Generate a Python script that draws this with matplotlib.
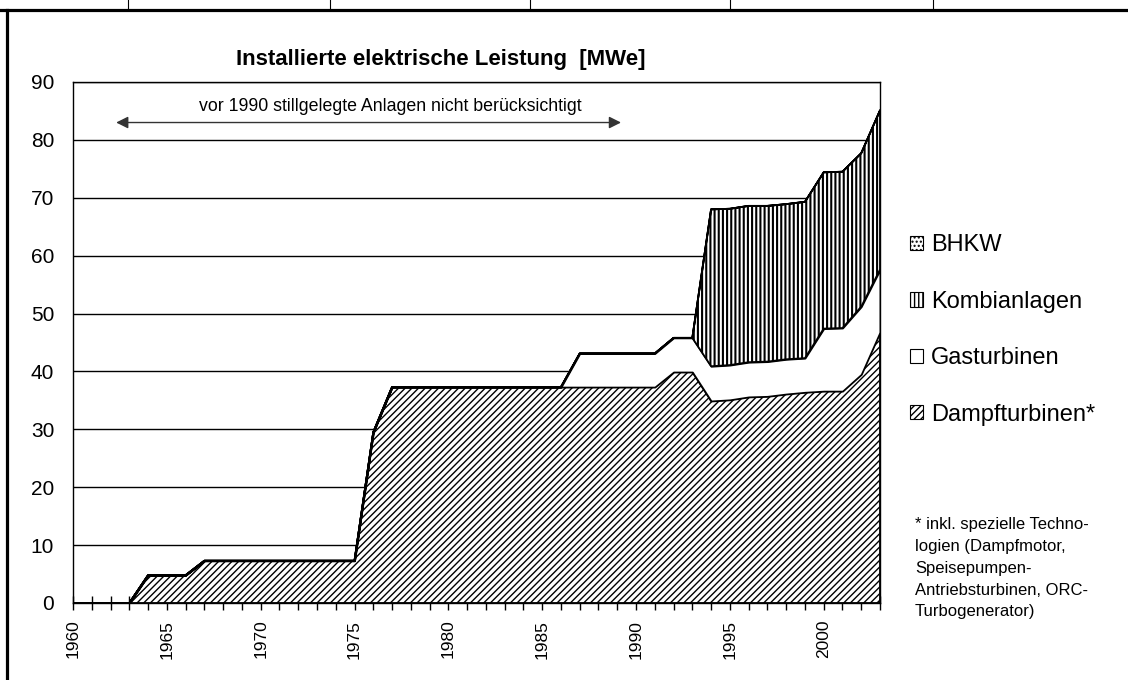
import numpy as np
import matplotlib.pyplot as plt
from matplotlib.patches import Patch
from matplotlib.lines import Line2D

plt.rcParams['font.family'] = ['Liberation Sans', 'DejaVu Sans']
plt.rcParams['hatch.linewidth'] = 1.0

# Installed capacity per year in MWe (stacked)
years = np.arange(1960, 2004)
dampf = [0, 0, 0, 0, 4.8, 4.8, 4.8, 7.3, 7.3, 7.3, 7.3, 7.3, 7.3, 7.3, 7.3, 7.3,
         29.5, 37.3, 37.3, 37.3, 37.3, 37.3, 37.3, 37.3, 37.3, 37.3, 37.3, 37.3,
         37.3, 37.3, 37.3, 37.3, 39.9, 39.9, 34.9, 35.1, 35.6, 35.7, 36.1, 36.4,
         36.6, 36.6, 39.5, 46.8]
gas = [0, 0, 0, 0, 0, 0, 0, 0, 0, 0, 0, 0, 0, 0, 0, 0, 0, 0, 0, 0, 0, 0, 0, 0,
       0, 0, 0, 5.8, 5.8, 5.8, 5.8, 5.8, 5.9, 5.9, 6.0, 6.0, 6.0, 6.0, 6.0, 5.9,
       10.8, 10.9, 11.7, 10.8]
kombi = [0, 0, 0, 0, 0, 0, 0, 0, 0, 0, 0, 0, 0, 0, 0, 0, 0, 0, 0, 0, 0, 0, 0, 0,
         0, 0, 0, 0, 0, 0, 0, 0, 0, 0, 27.1, 27.0, 27.0, 26.9, 26.8, 27.0,
         27.0, 27.0, 26.5, 27.5]
bhkw = [0] * 44

labels = ['BHKW', 'Kombianlagen', 'Gasturbinen', 'Dampfturbinen*']
hatches = ['....', '||||', '', '/////']

fig = plt.figure(figsize=(11.28, 6.8), dpi=100)
ax = fig.add_axes([73 / 1128, 1 - 603 / 680, 807 / 1128, 521 / 680])

s1 = np.array(dampf)
s2 = s1 + np.array(gas)
s3 = s2 + np.array(kombi)
s4 = s3 + np.array(bhkw)

ax.fill_between(years, 0, s1, facecolor='white', edgecolor='black',
                hatch=hatches[3], linewidth=1.3, zorder=2)
ax.fill_between(years, s1, s2, facecolor='white', edgecolor='black',
                linewidth=1.3, zorder=2)
komb = ax.fill_between(years, s2, s3, facecolor='white', edgecolor='black',
                       hatch=hatches[1], linewidth=1.3, zorder=2)
if hasattr(komb, 'set_hatch_linewidth'):
    komb.set_hatch_linewidth(1.5)
ax.fill_between(years, s3, s4, facecolor='white', edgecolor='black',
                hatch=hatches[0], linewidth=1.3, zorder=2)

ax.set_xlim(1960, 2003)
ax.set_ylim(0, 90)
ax.set_yticks(range(0, 91, 10))
ax.grid(axis='y', color='black', linewidth=1)
ax.set_axisbelow(True)
ax.set_xticks(years)
ax.set_xticklabels([str(y) if y % 5 == 0 else '' for y in years])
ax.tick_params(axis='x', direction='inout', length=10, width=1, pad=7,
               labelsize=12.5, labelrotation=90)
ax.tick_params(axis='y', length=0, pad=13.5, labelsize=15)
for sp in ax.spines.values():
    sp.set_color('black')
    sp.set_linewidth(1)
    sp.set_zorder(3)

ax.annotate('', xy=(1962.3, 83), xytext=(1989.2, 83),
            arrowprops=dict(arrowstyle='<|-|>', color='#333333', lw=1,
                            mutation_scale=18, shrinkA=0, shrinkB=0))
ax.text(1976.9, 85.8, 'vor 1990 stillgelegte Anlagen nicht berücksichtigt',
        ha='center', va='center', fontsize=12.8)

fig.text(441 / 1128, 1 - 60 / 680, 'Installierte elektrische Leistung  [MWe]',
         ha='center', va='center', fontsize=16, fontweight='bold')

handles = [Patch(facecolor='white', edgecolor='black', hatch=h, linewidth=0.8)
           for h in hatches]
fig.legend(handles, labels, loc='center left',
           bbox_to_anchor=(910 / 1128, 1 - 330 / 680), frameon=False,
           fontsize=17, handlelength=0.55, handleheight=0.55,
           handletextpad=0.35, labelspacing=1.46, borderpad=0,
           borderaxespad=0)

note = ('* inkl. spezielle Techno-\nlogien (Dampfmotor,\nSpeisepumpen-\n'
        'Antriebsturbinen, ORC-\nTurbogenerator)')
fig.text(915 / 1128, 1 - 517 / 680, note, ha='left', va='top',
         fontsize=12, linespacing=1.57)

# page frame around the chart
fig.add_artist(Line2D([0, 1], [1 - 9.5 / 680] * 2, color='black', lw=2.3))
fig.add_artist(Line2D([6.5 / 1128] * 2, [0, 1 - 9.5 / 680], color='black', lw=2.3))
for xp in [128, 330, 530, 730, 933]:
    fig.add_artist(Line2D([xp / 1128] * 2, [1 - 9.5 / 680, 1], color='black', lw=0.8))

fig.savefig('out.png', dpi=100)
